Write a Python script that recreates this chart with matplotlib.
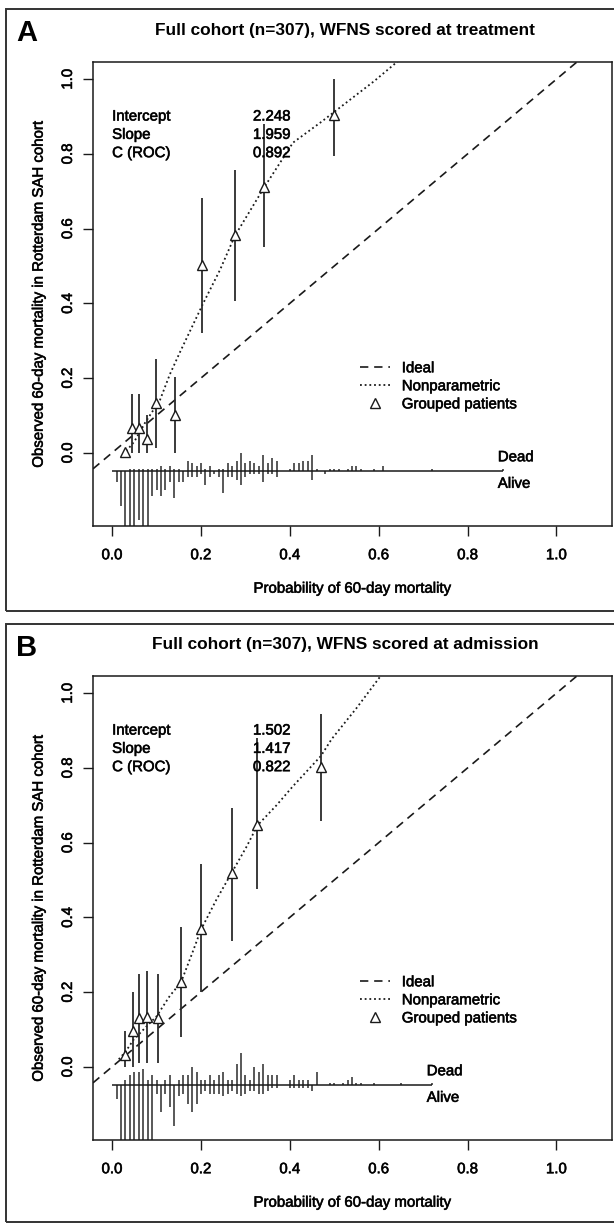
import matplotlib
matplotlib.use("Agg")

import matplotlib.pyplot as plt
import matplotlib.patheffects as pe
from matplotlib.lines import Line2D
from matplotlib.patches import Rectangle
import numpy as np

plt.rcParams['font.family'] = ['Liberation Sans', 'DejaVu Sans']

W, H = 614, 1225  # figure size in pixels (dpi=100)

# -------------------------
# Panel A: WFNS scored at treatment
# -------------------------
a_title = "Full cohort (n=307), WFNS scored at treatment"
a_stats = [2.248, 1.959, 0.892]

a_grp_pred = [0.029, 0.044, 0.061, 0.078, 0.098, 0.142, 0.203, 0.276, 0.342, 0.500]
a_grp_obs = [0.003, 0.067, 0.067, 0.037, 0.132, 0.100, 0.502, 0.582, 0.711, 0.905]
a_grp_lo = [np.nan, 0.0, 0.0, 0.0, 0.013, 0.0, 0.321, 0.406, 0.552, 0.795]
a_grp_hi = [np.nan, 0.156, 0.156, 0.100, 0.250, 0.202, 0.681, 0.757, 0.880, 1.000]

a_np_pred = [0.025, 0.050, 0.074, 0.108, 0.130, 0.153, 0.205, 0.243, 0.276, 0.342,
             0.407, 0.470, 0.530, 0.590, 0.645]
a_np_obs = [-0.005, 0.030, 0.080, 0.142, 0.210, 0.270, 0.400, 0.490, 0.580, 0.710,
            0.830, 0.885, 0.940, 0.995, 1.050]

# spike histogram: predicted risk (%) and number of patients per bin
a_dead_pct = [4, 5, 6, 7, 8, 9, 10, 11, 12, 13, 14, 15, 17, 18, 19, 20, 21, 22, 24, 25,
              26, 27, 28, 29, 30, 31, 32, 33, 34, 35, 36, 37, 40, 41, 42, 43, 44, 45, 46,
              49, 50, 51, 53, 54, 55, 56, 59, 61, 72, 88]
a_dead_n = [1, 1, 1, 1, 1, 1, 1, 2, 1, 2, 1, 1, 4, 3, 2, 3, 1, 2, 1, 1,
            3, 2, 4, 7, 3, 4, 3, 2, 6, 3, 5, 4, 1, 3, 3, 4, 4, 6, 1,
            1, 1, 1, 1, 2, 2, 1, 1, 2, 1, 1]
a_alive_pct = [1, 2, 3, 4, 5, 6, 7, 8, 9, 10, 11, 12, 13, 14, 15, 16, 17, 18, 19, 20,
               21, 22, 23, 24, 25, 26, 27, 28, 29, 30, 31, 32, 33, 34, 35, 36, 37, 45, 48]
a_alive_n = [4, 13, 30, 30, 30, 18, 30, 30, 9, 7, 9, 7, 4, 10, 4, 4, 2, 2, 2, 1,
             5, 2, 1, 2, 8, 2, 2, 3, 5, 2, 1, 1, 1, 4, 1, 1, 2, 3, 1]

# -------------------------
# Panel B: WFNS scored at admission
# -------------------------
b_title = "Full cohort (n=307), WFNS scored at admission"
b_stats = [1.502, 1.417, 0.822]

b_grp_pred = [0.029, 0.046, 0.061, 0.079, 0.103, 0.155, 0.201, 0.269, 0.327, 0.470]
b_grp_obs = [0.032, 0.097, 0.131, 0.133, 0.131, 0.226, 0.369, 0.519, 0.646, 0.803]
b_grp_lo = [0.0, 0.0, 0.010, 0.010, 0.010, 0.079, 0.200, 0.338, 0.476, 0.658]
b_grp_hi = [0.095, 0.200, 0.249, 0.257, 0.247, 0.373, 0.543, 0.694, 0.880, 0.945]

b_np_pred = [0.015, 0.030, 0.048, 0.075, 0.100, 0.130, 0.155, 0.179, 0.200, 0.235,
             0.269, 0.303, 0.327, 0.370, 0.407, 0.470, 0.494, 0.550, 0.610]
b_np_obs = [0.020, 0.040, 0.072, 0.105, 0.135, 0.190, 0.226, 0.300, 0.367, 0.448,
            0.519, 0.590, 0.646, 0.700, 0.751, 0.832, 0.877, 0.960, 1.055]

b_dead_pct = [3, 4, 5, 6, 7, 8, 9, 10, 12, 13, 15, 16, 17, 18, 19, 20, 21, 22, 23, 24,
              25, 26, 27, 28, 29, 30, 31, 32, 33, 34, 35, 36, 37, 40, 41, 42, 43, 44, 46,
              49, 50, 52, 53, 54, 55, 56, 59, 65, 72]
b_dead_n = [2, 4, 5, 5, 6, 2, 4, 2, 2, 4, 2, 4, 4, 7, 5, 2, 2, 4, 2, 4,
            5, 2, 2, 8, 12, 4, 2, 7, 5, 8, 4, 4, 4, 2, 4, 2, 2, 2, 5,
            1, 1, 1, 2, 3, 1, 1, 1, 1, 1]
b_alive_pct = [1, 2, 3, 4, 5, 6, 7, 8, 9, 10, 11, 12, 13, 14, 15, 16, 17, 18, 19, 20,
               21, 22, 23, 24, 25, 26, 27, 28, 29, 30, 31, 32, 33, 34, 35, 36, 37, 40,
               41, 42, 43, 44, 45]
b_alive_n = [5, 30, 30, 30, 30, 30, 30, 30, 30, 3, 10, 3, 8, 15, 4, 3, 7, 10, 7, 3,
             2, 3, 3, 3, 4, 3, 2, 3, 4, 3, 2, 2, 3, 3, 2, 1, 1, 1,
             1, 1, 1, 1, 2]

stat_names = ["Intercept", "Slope", "C (ROC)"]

SPIKE_BASE = -0.05     # baseline of the dead/alive spike histogram
SPIKE_UNIT = 0.0072    # spike height per patient
INK = "#1a1a1a"
FS = 10.8
# slightly heavier strokes for the plain text
HEAVY = [pe.withStroke(linewidth=0.45, foreground=INK)]


def px_rect(left, top, right, bottom):
    """pixel box (from top-left) -> figure fraction [l, b, w, h]"""
    return [left / W, 1 - bottom / H, (right - left) / W, (bottom - top) / H]


def draw_panel(ax, stats, grp_pred, grp_obs, grp_lo, grp_hi, np_pred, np_obs,
               dead_pct, dead_n, alive_pct, alive_n):
    ax.set_xlim(-0.043, 1.125)
    ax.set_ylim(-0.196, 1.046)

    # ideal line
    ax.axline((0, 0), slope=1, color=INK, lw=1.2, ls=(0, (5, 3.5)))
    # nonparametric calibration curve
    ax.plot(np_pred, np_obs, color=INK, lw=1.3, ls=(0, (1, 1.6)))

    # grouped patients with confidence bars
    ax.vlines(grp_pred, grp_lo, grp_hi, color="#2b2b2b", lw=1.3)
    ax.plot(grp_pred, grp_obs, ls="none", marker="^", ms=7.8, mfc="white",
            mec=INK, mew=1.0)

    # spike histogram of predicted risks, dead above / alive below
    dp = np.array(dead_pct) / 100
    ap = np.array(alive_pct) / 100
    ax.vlines(dp, SPIKE_BASE, SPIKE_BASE + np.array(dead_n) * SPIKE_UNIT,
              color="#2b2b2b", lw=1.1)
    ax.vlines(ap, SPIKE_BASE - np.array(alive_n) * SPIKE_UNIT, SPIKE_BASE,
              color="#2b2b2b", lw=1.1)
    pmax = max(dp.max(), ap.max())
    ax.hlines(SPIKE_BASE, 0, pmax, color=INK, lw=1.1)
    ax.text(pmax - 0.012, SPIKE_BASE + 0.038, "Dead", fontsize=FS, va="center",
            ha="left", path_effects=HEAVY)
    ax.text(pmax - 0.012, SPIKE_BASE - 0.033, "Alive", fontsize=FS, va="center",
            ha="left", path_effects=HEAVY)

    # calibration statistics
    for i, (name, val) in enumerate(zip(stat_names, stats)):
        y = 0.90 - 0.049 * i
        ax.text(0.0, y, name, fontsize=FS, va="center", ha="left", path_effects=HEAVY)
        ax.text(0.317, y, f"{val:.3f}", fontsize=FS, va="center", ha="left",
                path_effects=HEAVY)

    handles = [Line2D([], [], color=INK, lw=1.2, ls=(0, (5, 3.5))),
               Line2D([], [], color=INK, lw=1.3, ls=(0, (1, 1.6))),
               Line2D([], [], ls="none", marker="^", ms=7.8, mfc="white", mec=INK, mew=1.0)]
    leg = ax.legend(handles, ["Ideal", "Nonparametric", "Grouped patients"],
                    loc="upper left", bbox_to_anchor=(0.514, 0.355), frameon=False,
                    borderaxespad=0, borderpad=0, handlelength=2.0, handletextpad=0.8,
                    labelspacing=0.27, fontsize=FS)
    for t in leg.get_texts():
        t.set_path_effects(HEAVY)

    ax.set_xticks([0.0, 0.2, 0.4, 0.6, 0.8, 1.0])
    ax.set_xticklabels(["0.0", "0.2", "0.4", "0.6", "0.8", "1.0"])
    ax.set_yticks([0.0, 0.2, 0.4, 0.6, 0.8, 1.0])
    ax.set_yticklabels(["0.0", "0.2", "0.4", "0.6", "0.8", "1.0"], rotation=90, va="center")
    ax.tick_params(axis="x", direction="out", length=7, width=1.0, color=INK,
                   labelsize=FS, pad=9)
    ax.tick_params(axis="y", direction="out", length=7, width=1.0, color=INK,
                   labelsize=FS, pad=6)
    for lab in ax.get_xticklabels() + ax.get_yticklabels():
        lab.set_path_effects(HEAVY)
    for s in ax.spines.values():
        s.set_linewidth(1.1)
        s.set_color(INK)
    ax.set_xlabel("Probability of 60-day mortality", fontsize=FS, labelpad=14,
                  path_effects=HEAVY)
    ax.set_ylabel("Observed 60-day mortality in Rotterdam SAH cohort", fontsize=FS,
                  labelpad=11, path_effects=HEAVY)


fig = plt.figure(figsize=(W / 100, H / 100), dpi=100)

panels = [
    ("A", a_title, 9, 611, 62, 526, a_stats, a_grp_pred, a_grp_obs, a_grp_lo, a_grp_hi,
     a_np_pred, a_np_obs, a_dead_pct, a_dead_n, a_alive_pct, a_alive_n),
    ("B", b_title, 624, 1222, 676, 1140, b_stats, b_grp_pred, b_grp_obs, b_grp_lo, b_grp_hi,
     b_np_pred, b_np_obs, b_dead_pct, b_dead_n, b_alive_pct, b_alive_n),
]

for (letter, title, f_top, f_bot, a_top, a_bot, *data) in panels:
    # outer frame of the panel
    fig.add_artist(Rectangle((6 / W, 1 - f_bot / H), 640 / W, (f_bot - f_top) / H,
                             transform=fig.transFigure, fill=False, lw=1.4, ec="#333333"))
    fig.text(27 / W, 1 - (f_top + 24) / H, letter, fontsize=21, fontweight="bold",
             ha="center", va="center")
    fig.text(345 / W, 1 - (f_top + 21) / H, title, fontsize=12.4, fontweight="bold",
             ha="center", va="center")
    ax = fig.add_axes(px_rect(93, a_top, 612, a_bot))
    draw_panel(ax, *data)

fig.savefig("out.png", dpi=100)
